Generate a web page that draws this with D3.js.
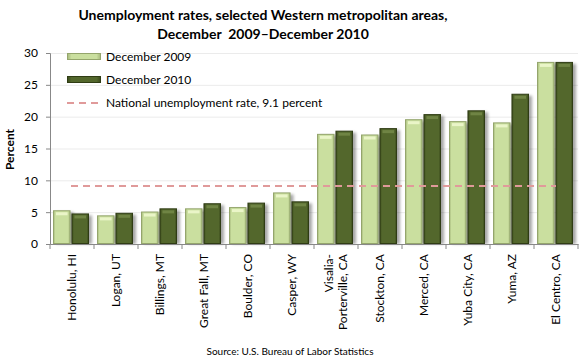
<!DOCTYPE html>
<html>
<head>
<meta charset="utf-8">
<script src="https://cdn.jsdelivr.net/npm/d3@7"></script>
<style>
  body { margin: 0; background: #fff; }
  svg text { font-family: Lato, "Open Sans", sans-serif; fill: #000; }
</style>
</head>
<body>
<div id="chart"></div>
<script>
const areas = ["Honolulu, HI", "Logan, UT", "Billings, MT", "Great Fall, MT", "Boulder, CO", "Casper, WY",
  "Visalia-|Porterville, CA", "Stockton, CA", "Merced, CA", "Yuba City, CA", "Yuma, AZ", "El Centro, CA"];
const dec2009 = [5.3, 4.5, 5.1, 5.6, 5.8, 8.1, 17.3, 17.2, 19.6, 19.3, 19.1, 28.6];
const dec2010 = [4.8, 4.9, 5.6, 6.4, 6.5, 6.7, 17.8, 18.2, 20.4, 21.0, 23.6, 28.6];
const seriesNames = ["December 2009", "December 2010"];
const nationalRate = 9.1;
const nationalLabel = "National unemployment rate, 9.1 percent";
const yTicks = [0, 5, 10, 15, 20, 25, 30];

const width = 580, height = 360;
const margin = { top: 53, right: 2, bottom: 116, left: 50 };

const svg = d3.select("#chart").append("svg")
  .attr("width", width).attr("height", height);

const defs = svg.append("defs");
function bevel(id, edge, mid) {
  const g = defs.append("linearGradient").attr("id", id).attr("x1", 0).attr("x2", 1).attr("y1", 0).attr("y2", 0);
  [[0, edge], [0.12, mid], [0.88, mid], [1, edge]].forEach(([o, c]) =>
    g.append("stop").attr("offset", o).attr("stop-color", c));
}
bevel("g0", "#a6b87c", "#cadf9f");
bevel("g1", "#3b4b1c", "#53672c");
defs.append("filter").attr("id", "shadow").attr("x", "-20%").attr("width", "160%")
  .append("feGaussianBlur").attr("stdDeviation", 1.6);

const colors = { fill: ["url(#g0)", "url(#g1)"], stroke: ["#94a56c", "#2f3c14"], cap: ["#eaf5c8", "#6f8444"] };

const x0 = d3.scaleBand().domain(areas).range([margin.left, width - margin.right]);
const x1 = d3.scaleBand().domain([0, 1]).range([3, 39]).paddingInner(0.05);
const y = d3.scaleLinear().domain([0, 30]).range([height - margin.bottom, margin.top]);

// gridlines
svg.append("g").selectAll("line").data(yTicks.slice(1)).join("line")
  .attr("x1", margin.left).attr("x2", width - margin.right)
  .attr("y1", d => y(d) + 0.5).attr("y2", d => y(d) + 0.5)
  .attr("stroke", "#ebebeb");

// bars
const rows = areas.map((a, i) => ({ area: a, vals: [dec2009[i], dec2010[i]] }));
const groups = svg.append("g").selectAll("g").data(rows).join("g")
  .attr("transform", d => `translate(${x0(d.area)},0)`);
const bars = groups.selectAll("g").data(d => d.vals.map((v, s) => ({ v, s }))).join("g");
bars.append("rect")
  .attr("x", d => x1(d.s) + 3).attr("y", d => y(d.v) + 2)
  .attr("width", x1.bandwidth()).attr("height", d => y(0) - y(d.v) - 2)
  .attr("fill", "#000").attr("opacity", 0.35).attr("filter", "url(#shadow)");
bars.append("rect")
  .attr("x", d => x1(d.s) + 0.5).attr("y", d => y(d.v) + 0.5)
  .attr("width", x1.bandwidth() - 1).attr("height", d => y(0) - y(d.v) - 1)
  .attr("fill", d => colors.fill[d.s]).attr("stroke", d => colors.stroke[d.s]);
bars.append("rect")
  .attr("x", d => x1(d.s) + 3).attr("y", d => y(d.v) + 2)
  .attr("width", x1.bandwidth() - 6).attr("height", 3)
  .attr("fill", d => colors.cap[d.s]);

// national rate line
svg.append("line")
  .attr("x1", x0(areas[0]) + x0.bandwidth() / 2 - 1)
  .attr("x2", x0(areas[areas.length - 1]) + x0.bandwidth() / 2)
  .attr("y1", y(nationalRate)).attr("y2", y(nationalRate))
  .attr("stroke", "#e09a9a").attr("stroke-width", 2).attr("stroke-dasharray", "7,5");

// y axis
const yAxis = svg.append("g").attr("transform", `translate(${margin.left},0)`)
  .call(d3.axisLeft(y).tickValues(yTicks).tickSize(4).tickPadding(8));
yAxis.select(".domain").attr("stroke", "#888");
yAxis.selectAll(".tick line").attr("stroke", "#888");
yAxis.selectAll("text").attr("font-size", 12).attr("font-family", "Lato");

// x axis
const xAxis = svg.append("g").attr("transform", `translate(0,${y(0)})`)
  .call(d3.axisBottom(x0).tickSize(0).tickFormat(""));
xAxis.select(".domain").attr("stroke", "#888");
xAxis.selectAll(".edge").data(areas.concat(["end"])).join("line")
  .attr("x1", (d, i) => margin.left + i * x0.step()).attr("x2", (d, i) => margin.left + i * x0.step())
  .attr("y1", 0).attr("y2", 5).attr("stroke", "#888");

// category labels
const labels = svg.append("g").selectAll("text").data(areas).join("text")
  .attr("transform", d => `translate(${x0(d) + x0.bandwidth() / 2},254) rotate(-90)`)
  .attr("text-anchor", "end").attr("font-size", 12);
labels.each(function (d) {
  const parts = d.split("|");
  const t = d3.select(this);
  parts.forEach((p, i) => t.append("tspan").attr("x", 0)
    .attr("dy", i === 0 ? (parts.length > 1 ? "-0.25em" : "0.35em") : "1.2em").text(p));
});

// y label
svg.append("text").attr("transform", `translate(14,${(y(0) + y(30)) / 2 + 1}) rotate(-90)`)
  .attr("text-anchor", "middle").attr("font-size", 12).attr("font-weight", "bold").text("Percent");

// title
const title = svg.append("text").attr("text-anchor", "middle").attr("font-size", 14).attr("font-weight", "bold");
title.append("tspan").attr("x", 263).attr("y", 20).text("Unemployment rates, selected Western metropolitan areas,");
title.append("tspan").attr("x", 263).attr("y", 39).text("December\u00a0 2009\u2013December 2010");

// legend
const legend = svg.append("g");
seriesNames.forEach((name, i) => {
  const ly = 57 + i * 23;
  legend.append("rect").attr("x", 67.5).attr("y", ly - 3.5).attr("width", 33).attr("height", 6)
    .attr("fill", colors.fill[i]).attr("stroke", colors.stroke[i]);
  legend.append("text").attr("x", 106).attr("y", ly + 4).attr("font-size", 12).text(name);
});
legend.append("line").attr("x1", 67).attr("x2", 101).attr("y1", 103).attr("y2", 103)
  .attr("stroke", "#e09a9a").attr("stroke-width", 2).attr("stroke-dasharray", "7,5");
legend.append("text").attr("x", 106).attr("y", 107).attr("font-size", 12).text(nationalLabel);

// source
svg.append("text").attr("x", 290).attr("y", 355).attr("text-anchor", "middle").attr("font-size", 10)
  .text("Source: U.S. Bureau of Labor Statistics");
</script>
</body>
</html>
